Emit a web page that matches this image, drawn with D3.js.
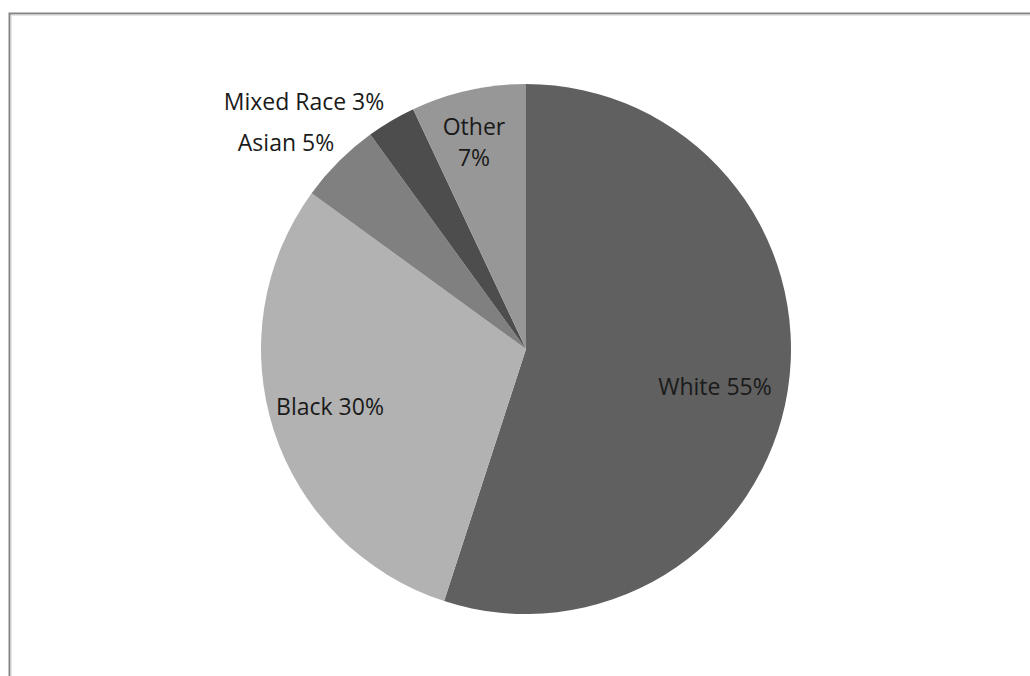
<!DOCTYPE html>
<html>
<head>
<meta charset="utf-8">
<script src="https://cdn.jsdelivr.net/npm/d3@7"></script>
<style>
  html, body { margin: 0; padding: 0; background: #fff; }
  svg { display: block; }
</style>
</head>
<body>
<svg id="chart" width="1030" height="676"></svg>
<script>
// Population share by group, clockwise from 12 o'clock
const categories = ["White", "Black", "Asian", "Mixed Race", "Other"];
const shares = [55, 30, 5, 3, 7];
const sliceColors = ["#606060", "#b2b2b2", "#808080", "#4d4d4d", "#979797"];

const W = 1030, H = 676;
const cx = 526, cy = 349, radius = 265;

const svg = d3.select("#chart");

// Outer frame (only top and left edges fall inside the canvas)
svg.append("path")
  .attr("d", `M9.5,${H} L9.5,13.5 L${W},13.5`)
  .attr("fill", "none").attr("stroke", "#858585").attr("stroke-width", 2);
svg.append("path")
  .attr("d", `M11,${H} L11,15 L${W},15`)
  .attr("fill", "none").attr("stroke", "#cfcfcf").attr("stroke-width", 1);

const pie = d3.pie().sort(null).value(d => d.value);
const arc = d3.arc().innerRadius(0).outerRadius(radius);

const data = categories.map((c, i) => ({ name: c, value: shares[i], color: sliceColors[i] }));
const arcs = pie(data);

const g = svg.append("g").attr("transform", `translate(${cx},${cy})`);
g.selectAll("path.slice")
  .data(arcs)
  .join("path")
  .attr("class", "slice")
  .attr("d", arc)
  .attr("fill", d => d.data.color);

// Data labels; "Other" wraps onto two lines
const labelFont = "'Open Sans', 'DejaVu Sans', sans-serif";
const labelLines = d => d.data.name === "Other"
  ? [d.data.name, `${d.data.value}%`]
  : [`${d.data.name} ${d.data.value}%`];

const labelPos = {
  "White": [715, 387],
  "Black": [330, 407],
  "Asian": [286, 143],
  "Mixed Race": [304, 102],
  "Other": [474, 127]
};

const labels = svg.append("g")
  .attr("font-family", labelFont)
  .attr("font-size", 23)
  .attr("fill", "#1a1a1a");

arcs.forEach(d => {
  const [x, y] = labelPos[d.data.name];
  const t = labels.append("text")
    .attr("text-anchor", "middle")
    .attr("x", x).attr("y", y);
  labelLines(d).forEach((ln, i) => {
    t.append("tspan").attr("x", x).attr("dy", i === 0 ? "0.35em" : "31px").text(ln);
  });
});
</script>
</body>
</html>
